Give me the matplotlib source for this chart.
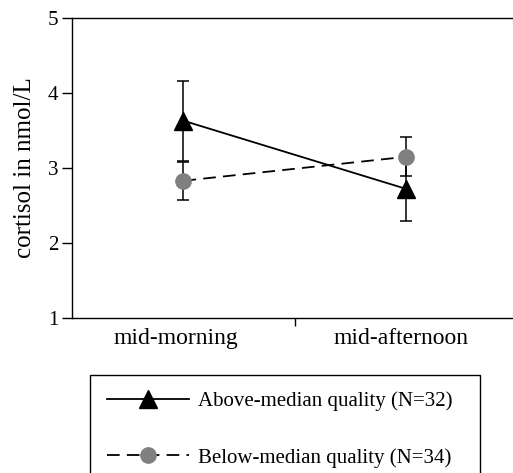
import matplotlib
matplotlib.use("Agg")
import matplotlib.pyplot as plt

plt.rcParams['font.family'] = ['Liberation Serif', 'DejaVu Serif']

times = ["mid-morning", "mid-afternoon"]
x_pos = [0.5, 1.5]

above_mean = [3.63, 2.72]
above_err = [0.53, 0.43]
below_mean = [2.83, 3.15]
below_err = [0.25, 0.26]

W, H = 513, 473
fig = plt.figure(figsize=(W / 100, H / 100), dpi=100)
ax = fig.add_axes([72 / W, (H - 318) / H, (518 - 72) / W, 300 / H])

ax.errorbar(x_pos, below_mean, yerr=below_err, color="black", ecolor="black",
            elinewidth=1.1, capsize=4, capthick=1.1, linestyle="none", zorder=2)
ax.errorbar(x_pos, above_mean, yerr=above_err, color="black", ecolor="black",
            elinewidth=1.1, capsize=4, capthick=1.1, linestyle="none", zorder=2)
l1, = ax.plot(x_pos, above_mean, color="black", lw=1.3, marker="^",
              markersize=12.5, markerfacecolor="black", markeredgecolor="black",
              zorder=3, label="Above-median quality (N=32)")
l2, = ax.plot(x_pos, below_mean, color="black", lw=1.3, dashes=(7, 4),
              marker="o", markersize=11, markerfacecolor="#808080",
              markeredgecolor="#808080", zorder=4,
              label="Below-median quality (N=34)")

ax.set_xlim(0, 2)
ax.set_ylim(1, 5)
ax.set_yticks([1, 2, 3, 4, 5])
ax.set_xticks([1])
ax.set_xticklabels([""])
# category labels sit a little left of the data points in the original
ax.set_xticks([0.465, 1.475], minor=True)
ax.set_xticklabels(times, minor=True)
ax.tick_params(axis="x", which="minor", length=0, pad=7, labelsize=17)
ax.tick_params(axis="x", which="major", length=6, width=1, direction="out")
ax.tick_params(axis="y", length=7, width=1, direction="out", labelsize=15, pad=3)
ax.spines["right"].set_visible(False)
for s in ["left", "bottom", "top"]:
    ax.spines[s].set_linewidth(1)
ax.set_ylabel("cortisol in nmol/L", fontsize=18, labelpad=8)

leg = fig.legend(handles=[l1, l2], loc="upper left",
                 bbox_to_anchor=(90 / W, 1 - 375 / H, 390 / W, 0.0001),
                 mode="expand", fontsize=15, frameon=True, fancybox=False,
                 edgecolor="black", framealpha=1, handlelength=3.95,
                 handletextpad=0.45, labelspacing=1.75, borderpad=0.8,
                 borderaxespad=0)
leg.get_frame().set_linewidth(1)

fig.savefig("out.png", dpi=100)
